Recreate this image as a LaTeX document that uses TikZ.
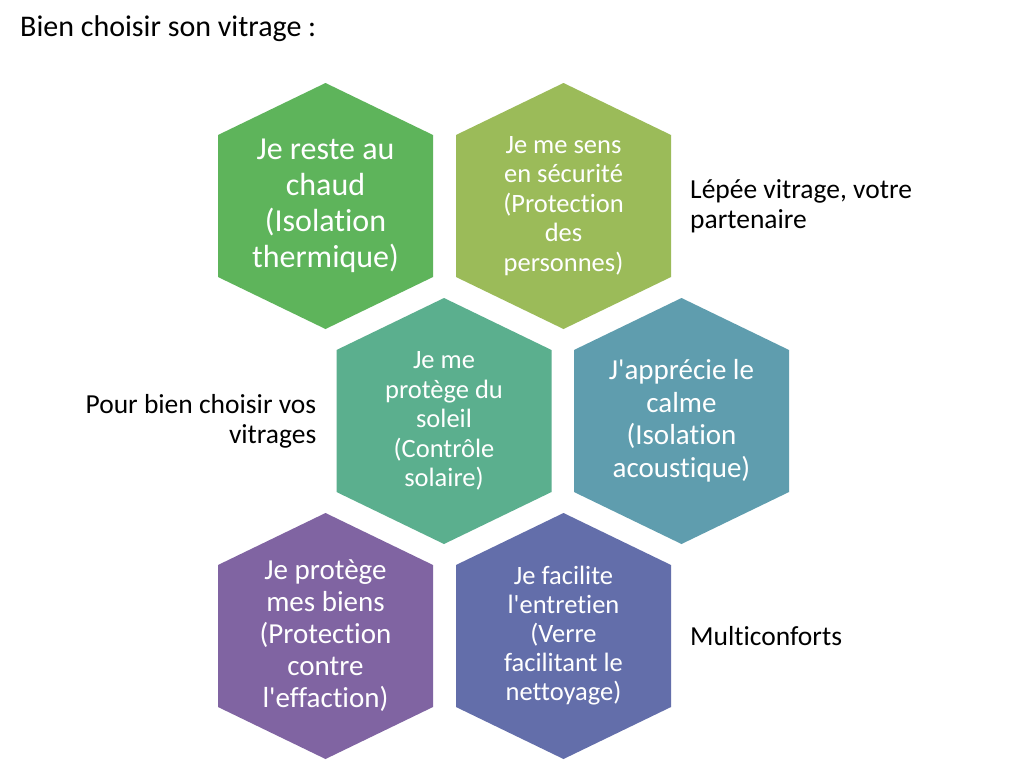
\documentclass[tikz,border=0pt]{standalone}
\usepackage{fontspec}
\setmainfont[Ligatures={TeXOff,NoCommon}]{Carlito}
\usepackage{tikz}
\usetikzlibrary{positioning}
\usepackage{xcolor}
\definecolor{Leaf}{HTML}{5EB45B}
\definecolor{Olive}{HTML}{9BBB59}
\definecolor{Jade}{HTML}{5BAF8E}
\definecolor{Steel}{HTML}{5F9DAE}
\definecolor{Plum}{HTML}{8064A2}
\definecolor{Indigo}{HTML}{636EAA}
\tikzset{
  hexcell/.style={text=white, align=center, inner sep=0pt},
  side/.style={text=black, inner sep=0pt, font=\fontsize{27.5}{30}\selectfont},
  title/.style={text=black, inner sep=0pt, font=\fontsize{30}{34}\selectfont}
}
% flattened hexagon, pointed top and bottom
\newcommand{\hexfill}[2]{\fill[#2] (#1) ++(0,-123) -- ++(107.5,52) -- ++(0,142) -- ++(-107.5,52) -- ++(-107.5,-52) -- ++(0,-142) -- cycle;}

\begin{document}
\begin{tikzpicture}[x=1pt, y=-1pt]
\useasboundingbox[fill=white] (0,0) rectangle (1024,779);
\foreach \name/\x/\y/\col/\fs/\bs/\txt in {
  h1/325.5/206/Leaf/32/36/{Je reste au\\chaud\\(Isolation\\thermique)},
  h2/563.5/206/Olive/26.5/29.5/{Je me sens\\en sécurité\\(Protection\\des\\personnes)},
  h3/444/421/Jade/26.5/29.5/{Je me\\protège du\\soleil\\(Contrôle\\solaire)},
  h4/681.5/421/Steel/29/32.5/{J'apprécie le\\calme\\(Isolation\\acoustique)},
  h5/325.5/636/Plum/29/32/{Je protège\\mes biens\\(Protection\\contre\\l'effaction)},
  h6/563.5/636/Indigo/26.5/29/{Je facilite\\l'entretien\\(Verre\\facilitant le\\nettoyage)}}
{
  \coordinate (\name) at (\x,\y);
  \hexfill{\name}{\col}
  \node[hexcell, font=\fontsize{\fs}{\bs}\selectfont] (\name-txt) at (\name) {\txt};
}
\node[title, anchor=base west] (head) at (20,36) {Bien choisir son vitrage :};
\node[side, align=left, right=126.5pt of h2] (partner) {Lépée vitrage, votre\\partenaire};
\node[side, align=right, left=127.5pt of h3] (choose) {Pour bien choisir vos\\vitrages};
\node[side, right=126.5pt of h6] (multi) {Multiconforts};
\end{tikzpicture}
\end{document}
